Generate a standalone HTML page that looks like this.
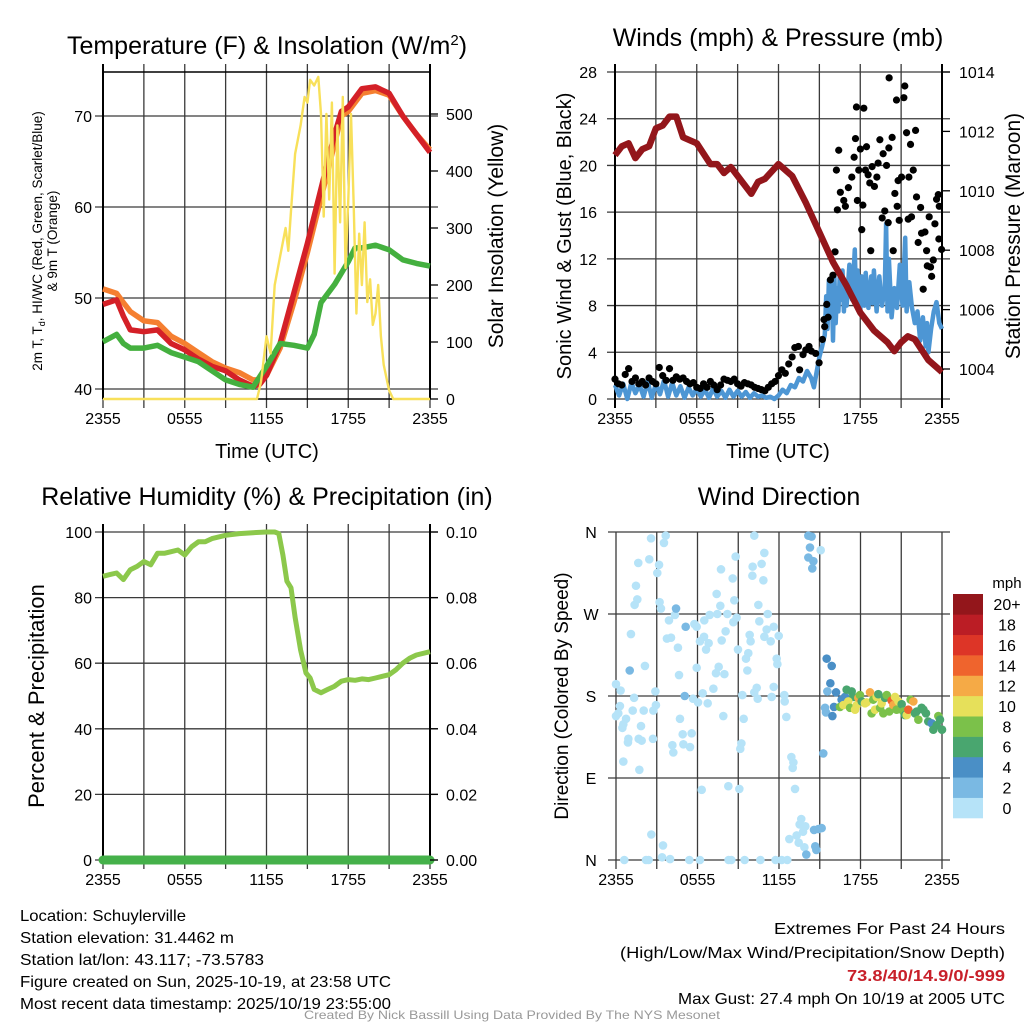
<!DOCTYPE html>
<html><head><meta charset="utf-8"><style>
html,body{margin:0;padding:0;background:#fff;}
svg{display:block;font-family:"Liberation Sans",Arial,sans-serif;}
</style></head><body>
<svg id="chart" width="1024" height="1024" viewBox="0 0 1024 1024" xmlns="http://www.w3.org/2000/svg">
<rect width="1024" height="1024" fill="#fff"/>
<g id="p1"></g>
<g id="p2"></g>
<g id="p3"></g>
<g id="p4"></g>
<g font-size="16" fill="#000">
<text x="20" y="921" textLength="166" lengthAdjust="spacingAndGlyphs">Location: Schuylerville</text>
<text x="20" y="943" textLength="214" lengthAdjust="spacingAndGlyphs">Station elevation: 31.4462 m</text>
<text x="20" y="965" textLength="244" lengthAdjust="spacingAndGlyphs">Station lat/lon: 43.117; -73.5783</text>
<text x="20" y="987" textLength="371" lengthAdjust="spacingAndGlyphs">Figure created on Sun, 2025-10-19, at 23:58 UTC</text>
<text x="20" y="1009" textLength="371" lengthAdjust="spacingAndGlyphs">Most recent data timestamp: 2025/10/19 23:55:00</text>
<text x="1005" y="934" text-anchor="end" textLength="231" lengthAdjust="spacingAndGlyphs">Extremes For Past 24 Hours</text>
<text x="1005" y="958" text-anchor="end" textLength="385" lengthAdjust="spacingAndGlyphs">(High/Low/Max Wind/Precipitation/Snow Depth)</text>
<text x="1005" y="981" text-anchor="end" font-weight="bold" fill="#c8202a" textLength="158" lengthAdjust="spacingAndGlyphs">73.8/40/14.9/0/-999</text>
<text x="1005" y="1004" text-anchor="end" textLength="327" lengthAdjust="spacingAndGlyphs">Max Gust: 27.4 mph On 10/19 at 2005 UTC</text>
<text x="512" y="1019" text-anchor="middle" font-size="12" fill="#999" textLength="416" lengthAdjust="spacingAndGlyphs">Created By Nick Bassill Using Data Provided By The NYS Mesonet</text>
</g>
</svg>
<script>
// ---------- DATA ----------
const xTickLabels = ["2355","0555","1155","1755","2355"];
// Temperature panel (hours since 2355)
const tempHours = [0,1,1.5,2,3,4,5,6,7,8,9,10,11,11.5,12,13,14,15,16,17,17.5,18,19,20,21,22,23,24];
const temp2m    = [49.3,49.8,48,46.5,46.3,46.5,45,44.3,43.3,42.5,42,41,40.3,40.5,41.5,45,50.5,56,62,68,70.5,71,73,73.2,72.5,70,68,66];
const temp9m    = [51,50.5,49.5,48.5,47.5,47.3,45.8,45,44,43,42.3,41.8,41,41,41.5,44.5,49.5,55,61,67,70,70.5,72.5,72.8,72.3,70,68,66.3];
const dewHours  = [0,1,1.5,2,3,4,5,6,7,8,9,10,11,12,13,14,15,15.5,16,17,18,18.5,19,20,21,22,23,24];
const dewpoint  = [45.2,46,45,44.5,44.5,44.8,44,43.5,43,42,41,40.5,40.2,42.5,45,44.8,44.5,46,49.5,51.5,54,55.5,55.5,55.8,55.3,54.2,53.8,53.5];
const solarHours = [0,11.3,11.6,12,12.3,12.6,13,13.4,13.6,13.8,14.1,14.5,14.8,15,15.2,15.5,15.8,16,16.2,16.4,16.6,16.8,17,17.2,17.4,17.6,17.8,18,18.2,18.4,18.6,18.8,19,19.2,19.4,19.6,19.8,20,20.2,20.4,20.6,21,21.3,24];
const solar      = [0,0,30,110,80,200,250,300,260,330,430,480,530,520,560,550,565,500,320,500,350,520,220,480,310,530,230,350,500,340,150,290,200,310,170,210,130,150,200,110,60,15,0,0];
const tempTicks = [40,50,60,70];
const solarTicks = [0,100,200,300,400,500];
// Winds panel
const pressHours = [0,0.5,1,1.5,2,2.5,3,3.5,4,4.5,5,5.5,6,7,7.5,8,8.5,9,10,10.5,11,12,13,14,15,16,17,18,19,20,20.5,21,21.5,22,23,24];
const pressure   = [1011.2,1011.5,1011.6,1011.1,1011.4,1011.5,1012.1,1012.2,1012.5,1012.5,1011.8,1011.7,1011.6,1010.9,1010.9,1010.6,1010.8,1010.5,1009.9,1010.3,1010.4,1010.9,1010.5,1009.6,1008.6,1007.6,1006.8,1005.9,1005.3,1004.9,1004.6,1004.9,1005.1,1005.0,1004.3,1003.9];
const windHours = [0,0.3,0.6,0.9,1.2,1.5,1.8,2.1,2.4,2.7,3,3.3,3.6,3.9,4.2,4.5,4.8,5.1,5.4,5.7,6,6.3,6.6,6.9,7.2,7.5,7.8,8.1,8.4,8.7,9,9.3,9.6,9.9,10.2,10.5,10.8,11.1,11.4,11.7,12,12.3,12.6,12.9,13.2,13.5,13.8,14.1,14.4,14.6,14.8,15,15.2,15.4,15.5,15.6,15.7,15.8,15.9,16,16.1,16.2,16.3,16.4,16.5,16.6,16.7,16.8,16.9,17,17.2,17.4,17.6,17.7,17.8,18,18.1,18.3,18.4,18.6,18.8,18.9,19,19.2,19.4,19.6,19.8,19.9,20,20.1,20.3,20.5,20.7,20.9,21.1,21.3,21.4,21.6,21.8,22,22.2,22.4,22.6,22.8,22.9,23,23.2,23.4,23.6,23.8,24];
const windSpeed = [1.2,0.3,1.3,0,1.4,0.5,1.2,0.2,1.5,0.1,1.3,0.4,1.6,0.2,1.4,0.3,1.1,0.1,1.0,0.3,0.9,0.2,0.8,0.1,0.9,0.2,0.7,0.1,0.8,0.2,0.7,0.2,0.6,0.1,0.5,0.2,0.3,0.1,0.2,0,0.3,0.8,0.5,1.2,1.0,1.8,1.5,2.4,1.8,1.0,2.3,3.6,4.5,5.5,8.8,6.0,10.2,7.0,9.8,5.0,10.5,6.5,9.5,7.5,10.8,8.5,11.0,7.5,9.8,8.0,11.5,8.5,12.8,8.0,11.0,7.5,10.5,8.0,10.8,7.8,10.5,8.2,11.0,7.5,10.5,8.0,9.5,15.0,7.5,12.0,7.0,9.5,7.8,11.5,8.0,13.8,7.5,10.0,7.8,6.5,7.5,5.0,7.0,4.5,6.5,4.0,6.0,7.5,8.3,6.5,6.0];
const gustHours = [0,0.25,0.5,0.75,1,1.25,1.5,1.75,2,2.25,2.5,2.75,3,3.25,3.5,3.75,4,4.25,4.5,4.75,5,5.25,5.5,5.75,6,6.25,6.5,6.75,7,7.25,7.5,7.75,8,8.25,8.5,8.75,9,9.25,9.5,9.75,10,10.25,10.5,10.75,11,11.25,11.5,11.75,12,12.25,12.5,12.75,13,13.2,13.46,13.55,13.8,14.0,14.24,14.41,14.73,14.98,15.22,15.34,15.39,15.54,15.64,15.81,16.0,16.15,16.25,16.32,16.42,16.54,16.79,16.91,17.13,17.38,17.55,17.65,17.72,17.79,17.89,18.01,18.11,18.19,18.26,18.38,18.46,18.58,18.7,18.77,18.87,19.04,19.22,19.31,19.44,19.61,19.68,19.8,19.93,20.05,20.1,20.12,20.34,20.42,20.54,20.66,20.71,20.78,20.86,21.03,21.2,21.27,21.4,21.52,21.57,21.69,21.76,21.89,22.06,22.13,22.25,22.43,22.5,22.62,22.75,22.87,22.92,23.06,23.16,23.24,23.36,23.48,23.6,23.73,23.77,23.8,23.97];
const gustSpeed = [1.7,1.3,1.2,2.1,2.6,1.5,1.8,1.3,1.5,1.2,1.8,1.5,1.3,2.7,2.0,1.6,2.6,1.6,1.9,1.7,1.8,1.5,1.3,1.4,1.0,0.9,1.3,1.0,1.5,1.2,0.8,1.2,1.7,1.6,1.5,1.7,1.3,1.1,1.4,1.3,1.2,1.0,0.9,0.8,0.7,1.0,1.3,1.5,2.0,2.5,2.2,3.0,3.6,4.4,4.5,2.5,3.8,4.2,4.5,4.1,3.9,3.1,5.1,6.8,6.2,8.1,7.0,10.2,10.6,12.6,19.6,16.2,21.3,17.7,17.0,16.5,18.1,19.0,20.7,22.3,25.0,17.0,19.6,21.4,14.5,16.6,24.9,19.6,21.6,19.2,18.5,12.7,19.9,18.2,19.0,20.2,22.2,15.5,21.0,16.1,20.0,15.1,21.5,27.5,22.4,12.7,17.6,25.6,16.5,18.7,15.3,19.0,25.8,26.8,22.8,15.4,19.0,21.8,15.6,19.6,23.0,17.3,13.4,16.4,14.2,9.4,14.3,12.7,11.4,15.6,11.3,10.5,11.9,15.0,17.1,17.5,13.7,16.5,12.8];
const windTicks = [0,4,8,12,16,20,24,28];
const pressTicks = [1004,1006,1008,1010,1012,1014];
// Humidity panel
const rhHours = [0,0.5,1,1.5,2,2.5,3,3.5,4,4.5,5,5.5,6,6.5,7,7.5,8,9,10,11,12,12.6,12.9,13.2,13.5,13.8,14.1,14.5,14.9,15.2,15.5,16,16.5,17,17.5,18,18.5,19,19.5,20,20.5,21,21.5,22,22.5,23,24];
const rh = [86.5,87,87.5,85.5,88.5,89.5,91,90,93.5,93.5,94,94.5,93,95.5,97,97,98,99,99.5,99.8,100,100,99.5,93,85,83,74,64,57,55.5,52,51,52,53,54.5,55,54.8,55.2,55,55.5,56,56.5,58,60,61.5,62.5,63.5];
const precipHours = [0,24];
const precip = [0,0];
const rhTicks = [0,20,40,60,80,100];
const precipTicks = ["0.00","0.02","0.04","0.06","0.08","0.10"];
// Wind direction panel
const dirHours = [2.58,3.66,3.53,1.64,2.45,3.17,3.04,1.47,1.57,1.10,3.21,3.31,3.90,3.75,4.05,4.56,4.34,5.77,5.94,6.50,6.90,7.46,8.20,7.68,7.41,8.71,8.88,8.64,8.07,7.78,6.48,6.18,6.82,6.63,7.73,8.59,8.81,10.04,10.06,10.72,10.92,10.85,10.18,10.48,11.17,10.55,11.09,11.61,10.92,11.39,11.98,9.84,9.91,8.98,9.74,9.57,9.67,11.83,11.88,11.61,12.39,12.42,12.54,11.46,10.36,10.43,10.18,9.30,9.40,7.90,7.17,6.38,6.75,6.04,5.94,7.36,7.98,7.56,5.67,4.64,4.71,5.57,4.91,5.45,4.96,4.15,4.22,2.90,2.94,2.75,2.13,2.04,1.84,1.89,1.67,0.91,0.88,0.74,0.54,0.47,0.17,0,0,0.34,0.29,1.33,1.23,2.72,0.54,1.72,9.23,9.15,12.91,13.06,13.01,13.18,8.27,9.08,6.31,2.60,3.46,3.39,3.98,0.61,2.21,2.40,5.40,6.18,8.29,8.49,9.47,10.63,11.75,12.20,12.61,13.64,13.52,13.94,13.77,13.30,12.76,13.45,13.87,15.07,
 1.37,4.42,5.13,5.06,1.01,14.67,14.75,14.58,14.90,15.14,14.16,14.40,14.28,14.16,14.53,14.45,15.26,15.46,15.39,15.56,
 14.01,15.51,15.88,15.78,16.20,15.93,16.05,16.61,
 16.86,16.98,17.35,17.47,16.49,16.74,17.10,17.23,17.60,17.72,17.84,17.96,18.09,18.33,18.45,18.70,18.94,18.82,19.07,19.19,19.31,19.44,19.56,19.68,19.80,19.93,20.12,20.29,20.42,20.54,20.66,20.79,21.03,21.15,21.28,21.40,21.52,21.69,21.89,22.01,22.26,22.13,22.50,22.63,22.82,22.99,23.24,23.36,23.61,23.73,23.85,24.0];
const dirDeg = [353,356,348,326,330,324,315,301,286,248,283,276,263,243,244,233,269,259,256,263,269,270,270,279,292,285,266,261,251,241,245,240,238,231,319,309,333,312,322,325,337,307,356,280,270,262,253,256,245,240,246,247,240,231,227,221,208,221,215,190,181,174,157,179,189,177,184,181,155,158,188,183,172,173,211,205,204,212,177,203,155,139,138,124,127,126,118,185,170,164,213,164,147,131,133,133,129,155,149,145,161,158,193,186,169,178,164,133,108,99,128,122,113,107,101,78,81,78,77,28,16,3,1,0,0,0,0,0,0,0,0,0,0,0,0,45,39,37,31,27,23,19,14,340,
 280,276,256,180,208,15,11,33,34,35,356,355,343,332,328,320,117,162,167,185,
 6,221,213,194,184,158,168,176,
 179,187,185,179,168,170,174,167,165,170,178,181,174,172,173,184,176,161,165,179,182,167,172,161,178,181,163,175,170,179,165,174,171,163,159,159,165,176,174,161,154,163,167,165,161,152,150,143,148,158,154,143];
const dirSpeed = [1,1,1,1,1,1,1,1,1,1,1,1,1,1,1,1,1,1,1,1,1,1,1,1,1,1,1,1,1,1,1,1,1,1,1,1,1,1,1,1,1,1,1,1,1,1,1,1,1,1,1,1,1,1,1,1,1,1,1,1,1,1,1,1,1,1,1,1,1,1,1,1,1,1,1,1,1,1,1,1,1,1,1,1,1,1,1,1,1,1,1,1,1,1,1,1,1,1,1,1,1,1,1,1,1,1,1,1,1,1,1,1,1,1,1,1,1,1,1,1,1,1,1,1,1,1,1,1,1,1,1,1,1,1,1,1,1,1,1,1,1,1,1,1,1,
 2.5,2.5,2.5,2.5,2.5,2.5,2.5,2.5,2.5,2.5,2.5,2.5,2.5,2.5,2.5,2.5,2.5,2.5,2.5,2.5,
 4.5,4.5,4.5,4.5,4.5,4.5,4.5,4.5,
 6.5,6.5,6.5,8.5,10.5,10.5,8.5,10.5,10.5,12.5,8.5,6.5,10.5,10.5,12.5,8.5,8.5,10.5,10.5,6.5,8.5,10.5,8.5,6.5,8.5,8.5,14.5,12.5,10.5,8.5,10.5,6.5,8.5,6.5,10.5,14.5,8.5,12.5,6.5,8.5,6.5,6.5,6.5,6.5,6.5,4.5,6.5,6.5,8.5,6.5,6.5,6.5];
const dirTickLabels = ["N","E","S","W","N"];
const speedBinLabels = ["0","2","4","6","8","10","12","14","16","18","20+"];
const speedBinColors = ["#b6e3f8","#7ab9e3","#4a8fc6","#49a66f","#7bc14a","#e6e05a","#f5aa46","#ef642d","#dd3527","#bb1d25","#93161b"];

// ---------- HELPERS ----------
const NS="http://www.w3.org/2000/svg";
function mk(parent,tag,attrs,text){const e=document.createElementNS(NS,tag);for(const k in attrs)e.setAttribute(k,attrs[k]);if(text!==undefined)e.textContent=text;parent.appendChild(e);return e;}
function lin(d0,d1,r0,r1){return v=>r0+(v-d0)*(r1-r0)/(d1-d0);}
function pathFrom(xs,ys,fx,fy){return xs.map((h,i)=>(i?"L":"M")+fx(h).toFixed(1)+","+fy(ys[i]).toFixed(1)).join("");}

function frame(g,L,R,T,B,opts){
  const grid=mk(g,"g",{});
  
  
  for(let i=0;i<=8;i++){const x=L+(R-L)*i/8;mk(grid,"line",{x1:x,x2:x,y1:T-(opts.topTick?8:0),y2:B+9,stroke:"#3a3a3a","stroke-width":1.3});}
  opts.hLines.forEach(y=>mk(grid,"line",{x1:L-8,x2:R+(opts.rightExt||8),y1:y,y2:y,stroke:"#3a3a3a","stroke-width":1.3}));
  if(opts.box){
    mk(g,"line",{x1:L,x2:L,y1:T-8,y2:B,stroke:"#000","stroke-width":2});
    mk(g,"line",{x1:R,x2:R,y1:T-8,y2:B,stroke:"#000","stroke-width":2});
    mk(g,"line",{x1:L,x2:R,y1:T,y2:T,stroke:"#000","stroke-width":1.5});
    mk(g,"line",{x1:L,x2:R,y1:B,y2:B,stroke:"#000","stroke-width":1.5});
  }
  xTickLabels.forEach((s,i)=>{const t=mk(g,"text",{x:L+(R-L)*i/4,y:B+25,"text-anchor":"middle","font-size":16},s);
    
    });
}
function ytitle(g,x,y,txt,size,name){const t=mk(g,"text",{x:0,y:0,"font-size":size,"text-anchor":"middle",transform:`translate(${x},${y}) rotate(-90)`},txt);
  
  return t;}
function title(g,x,y,txt,name){const t=mk(g,"text",{x:x,y:y,"font-size":25,"text-anchor":"middle"},txt);
  
  return t;}

// ---------- PANEL 1 ----------
(function(){
  const g=document.getElementById("p1");
  const L=103,R=430,T=72,B=399;
  const fx=lin(0,24,L,R), fy=lin(40,70,389,116), fs=lin(0,500,399,114);
  frame(g,L,R,T,B,{hLines:tempTicks.map(fy),box:true,topTick:true});
  const ser=mk(g,"g",{});
  
  
  let p=mk(ser,"path",{d:pathFrom(tempHours,temp9m,fx,fy),fill:"none",stroke:"#f57f30","stroke-width":5.5,"stroke-linejoin":"round"});
  
  
  p=mk(ser,"path",{d:pathFrom(tempHours,temp2m,fx,fy),fill:"none",stroke:"#d42027","stroke-width":5.5,"stroke-linejoin":"round"});
  
  
  p=mk(ser,"path",{d:pathFrom(dewHours,dewpoint,fx,fy),fill:"none",stroke:"#44b03f","stroke-width":5.5,"stroke-linejoin":"round"});
  
  
  p=mk(ser,"path",{d:pathFrom(solarHours,solar,fx,fs),fill:"none",stroke:"#f8e05a","stroke-width":2.4,"stroke-linejoin":"round"});
  
  
  tempTicks.forEach(v=>{const t=mk(g,"text",{x:92,y:fy(v)+6,"text-anchor":"end","font-size":16},v);
    
    });
  solarTicks.forEach(v=>{mk(g,"line",{x1:R,x2:R+8,y1:fs(v),y2:fs(v),stroke:"#000","stroke-width":1.3});
    const t=mk(g,"text",{x:446,y:fs(v)+6,"font-size":16},v);
    
    });
  title(g,267,54,"Temperature (F) & Insolation (W/m",'panel-title').innerHTML+='<tspan dy="-9" font-size="15">2</tspan><tspan dy="9">)</tspan>';
  const yt=mk(g,"text",{"font-size":13.5,"text-anchor":"middle",transform:"translate(42,241) rotate(-90)"});
  
  
  yt.innerHTML='<tspan x="0" y="0">2m T, T<tspan font-size="9" dy="3">d</tspan><tspan dy="-3">, HI/WC (Red, Green, Scarlet/Blue)</tspan></tspan><tspan x="0" y="15">&amp; 9m T (Orange)</tspan>';
  ytitle(g,503,236,"Solar Insolation (Yellow)",21,'right-axis-title');
  const xt=mk(g,"text",{x:267,y:458,"font-size":20,"text-anchor":"middle"},"Time (UTC)");
  
  
})();

// ---------- PANEL 2 ----------
(function(){
  const g=document.getElementById("p2");
  const L=615,R=942,T=72,B=399;
  const fx=lin(0,24,L,R), fy=lin(0,28,399,72), fp=lin(1004,1014,369,72);
  frame(g,L,R,T,B,{hLines:windTicks.map(fy),box:false,topTick:true});
  mk(g,"line",{x1:L,x2:L,y1:T-8,y2:B+9,stroke:"#000","stroke-width":2});
  mk(g,"line",{x1:R,x2:R,y1:T-8,y2:B+9,stroke:"#000","stroke-width":2});
  let p=mk(g,"path",{d:pathFrom(windHours,windSpeed,fx,fy),fill:"none",stroke:"#4d96d4","stroke-width":4.5,"stroke-linejoin":"round"});
  
  
  const gd=mk(g,"g",{});
  
  
  gustHours.forEach((h,i)=>{const c=mk(gd,"circle",{cx:fx(h),cy:fy(gustSpeed[i]),r:3.6,fill:"#000"});
    
    });
  p=mk(g,"path",{d:pathFrom(pressHours,pressure,fx,fp),fill:"none",stroke:"#93161b","stroke-width":6.5,"stroke-linejoin":"round"});
  
  
  windTicks.forEach(v=>{const t=mk(g,"text",{x:597,y:fy(v)+6,"text-anchor":"end","font-size":16},v);
    
    });
  pressTicks.forEach(v=>{mk(g,"line",{x1:R,x2:R+8,y1:fp(v),y2:fp(v),stroke:"#000","stroke-width":1.3});
    const t=mk(g,"text",{x:959,y:fp(v)+6,"font-size":16},v);
    
    });
  title(g,778,46,"Winds (mph) & Pressure (mb)",'panel-title');
  ytitle(g,571,236,"Sonic Wind & Gust (Blue, Black)",20,'y-axis-title');
  ytitle(g,1020,236,"Station Pressure (Maroon)",21,'right-axis-title');
  const xt=mk(g,"text",{x:778,y:458,"font-size":20,"text-anchor":"middle"},"Time (UTC)");
  
  
})();

// ---------- PANEL 3 ----------
(function(){
  const g=document.getElementById("p3");
  const L=103,R=430,T=532,B=860;
  const fx=lin(0,24,L,R), fy=lin(0,100,860,532);
  frame(g,L,R,T,B,{hLines:rhTicks.map(fy),box:false,topTick:true});
  mk(g,"line",{x1:L,x2:L,y1:T-8,y2:B,stroke:"#000","stroke-width":2});
  mk(g,"line",{x1:R,x2:R,y1:T-8,y2:B,stroke:"#000","stroke-width":2});
  let p=mk(g,"path",{d:pathFrom(rhHours,rh,fx,fy),fill:"none",stroke:"#8cc84b","stroke-width":5,"stroke-linejoin":"round"});
  
  
  const fpr=lin(0,0.1,860,532);
  p=mk(g,"path",{d:pathFrom(precipHours,precip,fx,fpr),fill:"none",stroke:"#45b14a","stroke-width":9,"stroke-linecap":"round"});
  
  
  rhTicks.forEach(v=>{const t=mk(g,"text",{x:92,y:fy(v)+6,"text-anchor":"end","font-size":16},v);
    
    });
  precipTicks.forEach((s,i)=>{const y=fy(i*20);mk(g,"line",{x1:R,x2:R+8,y1:y,y2:y,stroke:"#000","stroke-width":1.3});
    const t=mk(g,"text",{x:446,y:y+6,"font-size":16},s);
    
    });
  title(g,267,505,"Relative Humidity (%) & Precipitation (in)",'panel-title');
  ytitle(g,44,696,"Percent & Precipitation",22,'y-axis-title');
})();

// ---------- PANEL 4 ----------
(function(){
  const g=document.getElementById("p4");
  const L=616,R=942,T=532,B=860;
  const fx=lin(0,24,L,R), fy=lin(0,360,860,532);
  frame(g,L,R,T,B,{hLines:[0,90,180,270,360].map(fy),box:false,topTick:false,rightExt:8});
  dirTickLabels.forEach((s,i)=>{const t=mk(g,"text",{x:591,y:fy(i*90)+6,"text-anchor":"middle","font-size":16},s);
    
    });
  const dots=mk(g,"g",{});
  
  
  dirHours.forEach((h,i)=>{const bin=Math.min(10,Math.floor(dirSpeed[i]/2));
    const c=mk(dots,"circle",{cx:fx(h),cy:fy(dirDeg[i]),r:4.3,fill:speedBinColors[bin]});
    
    });
  const cb=mk(g,"g",{});
  
  
  const h=(818-594)/11;
  speedBinColors.forEach((c,i)=>{const y=818-h*(i+1);
    const r=mk(cb,"rect",{x:953,y:y,width:30,height:h+0.3,fill:c});
    
    
    const t=mk(cb,"text",{x:1007,y:y+h/2+6,"text-anchor":"middle","font-size":16},speedBinLabels[i]);
    
    });
  const u=mk(cb,"text",{x:1007,y:588,"text-anchor":"middle","font-size":15},"mph");
  
  
  title(g,779,505,"Wind Direction",'panel-title');
  ytitle(g,568,696,"Direction (Colored By Speed)",19,'y-axis-title');
})();
</script>
</body></html>
